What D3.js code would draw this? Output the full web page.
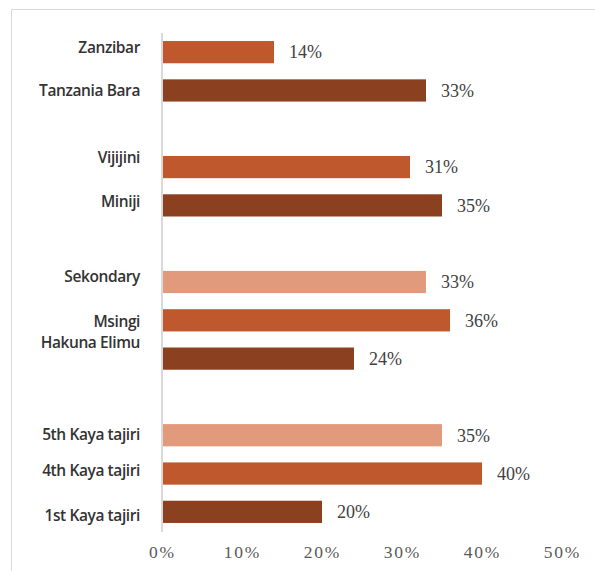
<!DOCTYPE html>
<html>
<head>
<meta charset="utf-8">
<script src="https://cdn.jsdelivr.net/npm/d3@7"></script>
<style>
  body { margin: 0; background: #fff; }
  svg { display: block; }
</style>
</head>
<body>
<svg class="chart"></svg>
<script>
// rows top to bottom, "" = empty spacer row between groups
var labels  = ["Zanzibar", "Tanzania Bara", "", "Vijijini", "Miniji", "", "Sekondary", "Msingi", "Hakuna Elimu", "", "5th Kaya tajiri", "4th Kaya tajiri", "1st Kaya tajiri"];
var values  = [14, 33, null, 31, 35, null, 33, 36, 24, null, 35, 40, 20];
var shades  = ["mid", "dark", null, "mid", "dark", null, "light", "mid", "dark", null, "light", "mid", "dark"];
var ticks   = [0, 10, 20, 30, 40, 50];

var colors = { light: "#E29A7C", mid: "#C0582D", dark: "#8B4020" };
var serif = "'Liberation Serif', 'Times New Roman', serif";
var sans = "'Open Sans', 'Noto Sans', sans-serif";

// label vertical nudges (layout only), in px
var labelNudge = [-5, 0, 0, -10, -4, 0, -5, 1, -16, 0, -1, -3, 4];

var width = 595, height = 571;
var margin = { top: 33, right: 33, bottom: 40, left: 162 };

var svg = d3.select(".chart").attr("width", width).attr("height", height);

// frame
svg.append("path")
  .attr("d", "M11.5," + height + "V9.5H" + width)
  .attr("fill", "none")
  .attr("stroke", "#d9d9d9")
  .attr("stroke-width", 1);

var x = d3.scaleLinear().domain([0, 50]).range([margin.left, 562]);
var y = d3.scaleBand()
  .domain(d3.range(labels.length))
  .range([margin.top, 531])
  .paddingInner(0.42)
  .paddingOuter(0.21);

var rows = d3.range(labels.length).filter(i => values[i] != null);

// category labels
svg.append("g").selectAll("text").data(rows).enter().append("text")
  .attr("x", 140)
  .attr("y", i => y(i) + y.bandwidth() / 2 + labelNudge[i])
  .attr("dy", "0.35em")
  .attr("text-anchor", "end")
  .attr("font-family", sans)
  .attr("font-size", 15.5)
  .attr("font-weight", 600)
  .attr("letter-spacing", -0.4)
  .attr("fill", "#333")
  .text(i => labels[i]);

// bars
svg.append("g").selectAll("rect").data(rows).enter().append("rect")
  .attr("x", x(0))
  .attr("y", i => y(i))
  .attr("width", i => x(values[i]) - x(0))
  .attr("height", y.bandwidth())
  .attr("fill", i => colors[shades[i]]);

// value labels
svg.append("g").selectAll("text").data(rows).enter().append("text")
  .attr("x", i => x(values[i]) + 15)
  .attr("y", i => y(i) + y.bandwidth() / 2)
  .attr("dy", "0.35em")
  .attr("font-family", serif)
  .attr("font-size", 18)
  .attr("fill", "#404040")
  .text(i => values[i] + "%");

// vertical axis line
svg.append("line")
  .attr("x1", x(0)).attr("x2", x(0))
  .attr("y1", margin.top).attr("y2", 532)
  .attr("stroke", "#d9d9d9")
  .attr("stroke-width", 2);

// x axis tick labels
var xAxis = d3.axisBottom(x)
  .tickValues(ticks)
  .tickSize(0)
  .tickPadding(0)
  .tickFormat(d => d + "%");

svg.append("g")
  .attr("transform", "translate(0,546)")
  .call(xAxis)
  .call(g => g.select(".domain").remove())
  .call(g => g.selectAll("text")
    .attr("font-family", serif)
    .attr("font-size", 17.5)
    .attr("letter-spacing", 1.8)
    .attr("fill", "#595959"));
</script>
</body>
</html>
